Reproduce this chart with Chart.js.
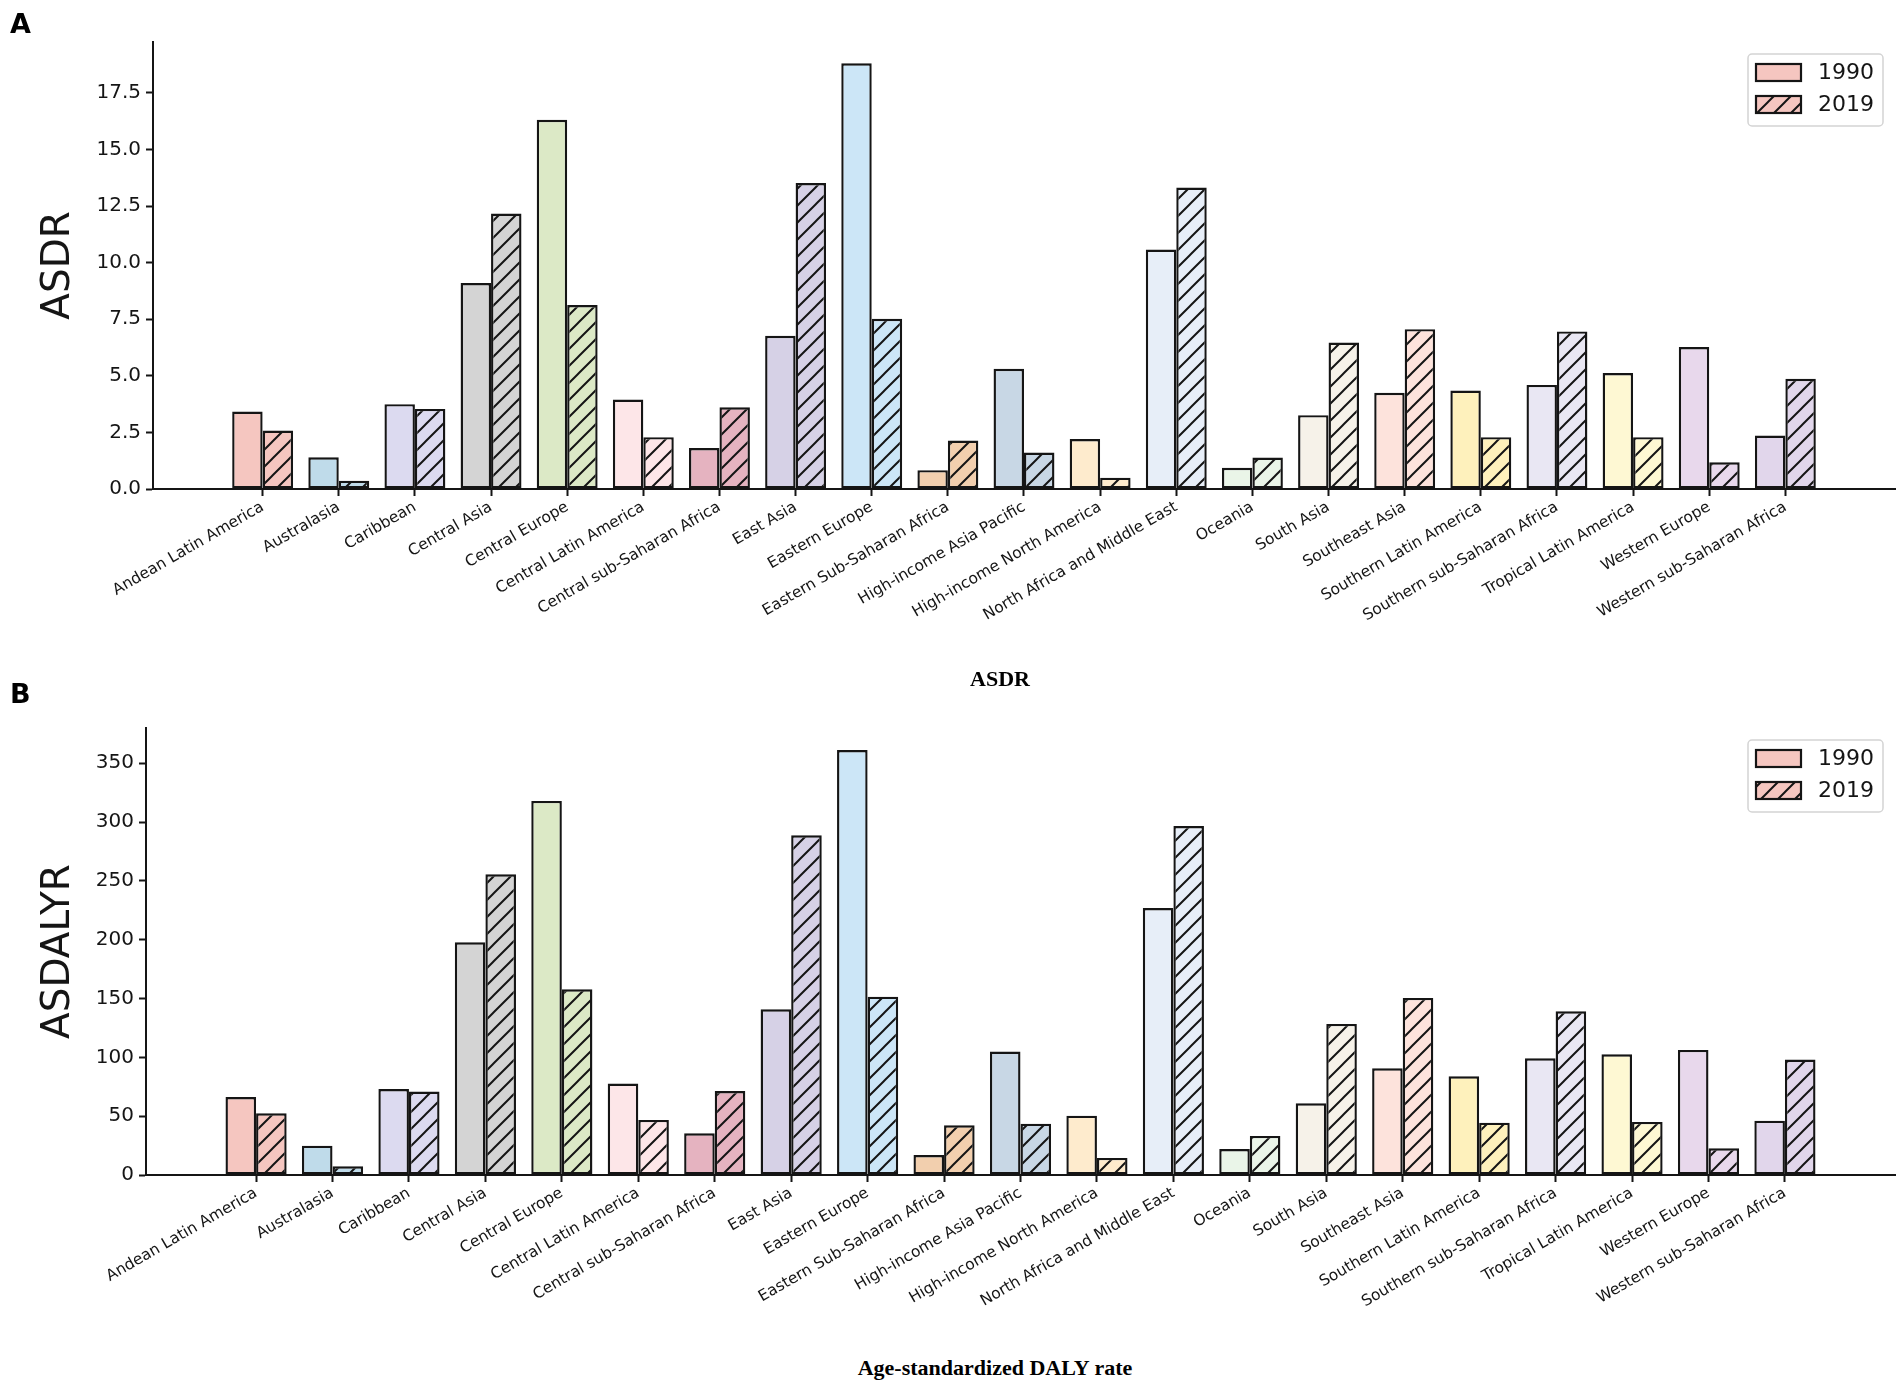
<!DOCTYPE html>
<html>
<head>
<meta charset="utf-8">
<title>ASDR and ASDALYR by region, 1990 vs 2019</title>
<script src="https://cdn.jsdelivr.net/npm/chart.js@4.4.1/dist/chart.umd.min.js"></script>
<style>
  html,body{margin:0;padding:0;background:#fff;}
  #page{position:relative;width:1902px;height:1385px;overflow:hidden;}
  canvas{position:absolute;left:0;}
  .panel{position:absolute;left:10px;z-index:2;font:bold 27px/1 'DejaVu Sans',sans-serif;color:#000;}
  .xtitle{position:absolute;z-index:2;width:600px;text-align:center;font:bold 22px/26px 'Liberation Serif','Times New Roman',serif;color:#000;}
</style>
</head>
<body>
<div id="page">
  <canvas id="asdr_chart" width="1902" height="660" style="top:0"></canvas>
  <canvas id="daly_chart" width="1902" height="660" style="top:690px"></canvas>
  <div class="panel" style="top:10px">A</div>
  <div class="xtitle" style="left:700px;top:666px">ASDR</div>
  <div class="panel" style="top:680px">B</div>
  <div class="xtitle" style="left:695px;top:1355px">Age-standardized DALY rate</div>
</div>
<script>
/* ================= DATA ================= */
const regions = ['Andean Latin America','Australasia','Caribbean','Central Asia','Central Europe','Central Latin America',
  'Central sub-Saharan Africa','East Asia','Eastern Europe','Eastern Sub-Saharan Africa','High-income Asia Pacific',
  'High-income North America','North Africa and Middle East','Oceania','South Asia','Southeast Asia',
  'Southern Latin America','Southern sub-Saharan Africa','Tropical Latin America','Western Europe','Western sub-Saharan Africa'];
const years = ['1990','2019'];
const regionColors = ['#f5c6c0','#bfdbea','#dcdaf0','#d4d4d4','#dce9c6','#fde6e8','#e5b3c0','#d6d1e6','#cce6f7','#f2cfae','#c8d7e5',
  '#feebcd','#e7eef8','#eaf5e8','#f6f2e9','#fde3dc','#fef1bc','#e9e7f3','#fef8d3','#e8d8ec','#e1d6eb'];

// panel A: age-standardized death rate
const asdr1990 = [3.42,1.40,3.75,9.10,16.31,3.95,1.81,6.77,18.81,0.83,5.31,2.21,10.58,0.94,3.26,4.25,4.35,4.60,5.12,6.27,2.36];
const asdr2019 = [2.58,0.37,3.54,12.17,8.13,2.29,3.61,13.52,7.52,2.14,1.61,0.50,13.32,1.39,6.47,7.06,2.29,6.96,2.29,1.18,4.87];
const asdrTicks = [0,2.5,5,7.5,10,12.5,15,17.5];
const asdrMax = 19.75;

// panel B: age-standardized DALY rate
const daly1990 = [66.3,24.9,73.1,197.8,318.0,77.7,35.4,140.9,361.3,17.0,104.9,50.4,227.0,22.1,60.9,90.7,83.9,99.2,102.6,106.3,46.2];
const daly2019 = [52.4,7.4,70.9,255.6,157.9,46.8,71.4,288.8,151.6,42.2,43.6,14.5,296.7,33.2,128.4,150.5,44.5,139.2,45.1,22.7,98.1];
const dalyTicks = [0,50,100,150,200,250,300,350];
const dalyMax = 380;

const xMin = -1.44, xMax = 21.44;
const FONT = "'DejaVu Sans', sans-serif";
const INK = '#151515';

/* ---- "//" hatch like matplotlib ---- */
function hatch(color){
  const s = 17, c = document.createElement('canvas');
  c.width = c.height = s;
  const g = c.getContext('2d');
  g.fillStyle = color; g.fillRect(0,0,s,s);
  g.strokeStyle = INK; g.lineWidth = 2;
  g.beginPath();
  g.moveTo(0,s); g.lineTo(s,0);
  g.moveTo(-3,3); g.lineTo(3,-3);
  g.moveTo(s-3,s+3); g.lineTo(s+3,s-3);
  g.stroke();
  return g.createPattern(c,'repeat');
}

// legend box inside the plot, top right (matplotlib style)
const boxLegend = {
  id:'boxLegend',
  afterDraw(chart){
    const {ctx, chartArea:ca} = chart;
    const x = ca.right-147, y = ca.top+12, w = 135, h = 72;
    ctx.save();
    ctx.fillStyle = 'rgba(255,255,255,0.8)'; ctx.strokeStyle = '#d4d4d4'; ctx.lineWidth = 1.5;
    ctx.beginPath(); ctx.roundRect(x,y,w,h,4); ctx.fill(); ctx.stroke();
    chart.data.datasets.forEach((ds,i)=>{
      const py = y+10+i*32;
      ctx.fillStyle = ds.backgroundColor[0];
      ctx.fillRect(x+8,py,45,17);
      ctx.strokeStyle = INK; ctx.lineWidth = 2.2; ctx.strokeRect(x+8,py,45,17);
      ctx.fillStyle = INK; ctx.font = `22px ${FONT}`; ctx.textBaseline = 'middle';
      ctx.fillText(ds.label, x+70, py+9);
    });
    ctx.restore();
  }
};

function barChart(id, v1990, v2019, yTicks, yMax, yTitle, digits, axisLeft, padTop, xHeight){
  const common = {borderColor:INK, borderWidth:2.4, borderSkipped:false, categoryPercentage:0.8, barPercentage:1};
  return new Chart(document.getElementById(id), {
    type:'bar',
    data:{ datasets:[
      {label:years[0], data:v1990.map((v,i)=>({x:i,y:v})), backgroundColor:regionColors, ...common},
      {label:years[1], data:v2019.map((v,i)=>({x:i,y:v})), backgroundColor:regionColors.map(hatch), ...common}
    ]},
    options:{
      responsive:false, animation:false, devicePixelRatio:1,
      layout:{padding:{top:padTop, right:7, left:0, bottom:0}},
      plugins:{legend:{display:false}, tooltip:{enabled:false}},
      scales:{
        x:{type:'linear', min:xMin, max:xMax, offset:false,
           grid:{offset:false, drawOnChartArea:false, tickLength:7, tickWidth:2, tickColor:INK},
           border:{color:INK, width:2},
           afterBuildTicks:s=>{ s.ticks = regions.map((r,i)=>({value:i})); },
           afterFit:s=>{ s.height = xHeight; },
           ticks:{autoSkip:false, maxRotation:30, minRotation:30, padding:2, color:INK,
                  font:{family:FONT, size:15.5}, callback:v=>regions[v]}},
        y:{min:0, max:yMax,
           grid:{drawOnChartArea:false, tickLength:7, tickWidth:2, tickColor:INK},
           border:{color:INK, width:2},
           afterBuildTicks:s=>{ s.ticks = yTicks.map(v=>({value:v})); },
           afterFit:s=>{ s.width = axisLeft; },
           title:{display:true, text:yTitle, color:INK, font:{family:FONT, size:39, lineHeight:1.2}, padding:{top:35, bottom:0}},
           ticks:{padding:5, color:INK, font:{family:FONT, size:20}, callback:v=>v.toFixed(digits)}}
      }
    },
    plugins:[boxLegend]
  });
}

barChart('asdr_chart', asdr1990, asdr2019, asdrTicks, asdrMax, 'ASDR', 1, 153, 42, 171);
barChart('daly_chart', daly1990, daly2019, dalyTicks, dalyMax, 'ASDALYR', 0, 146, 38, 175);
</script>
</body>
</html>
